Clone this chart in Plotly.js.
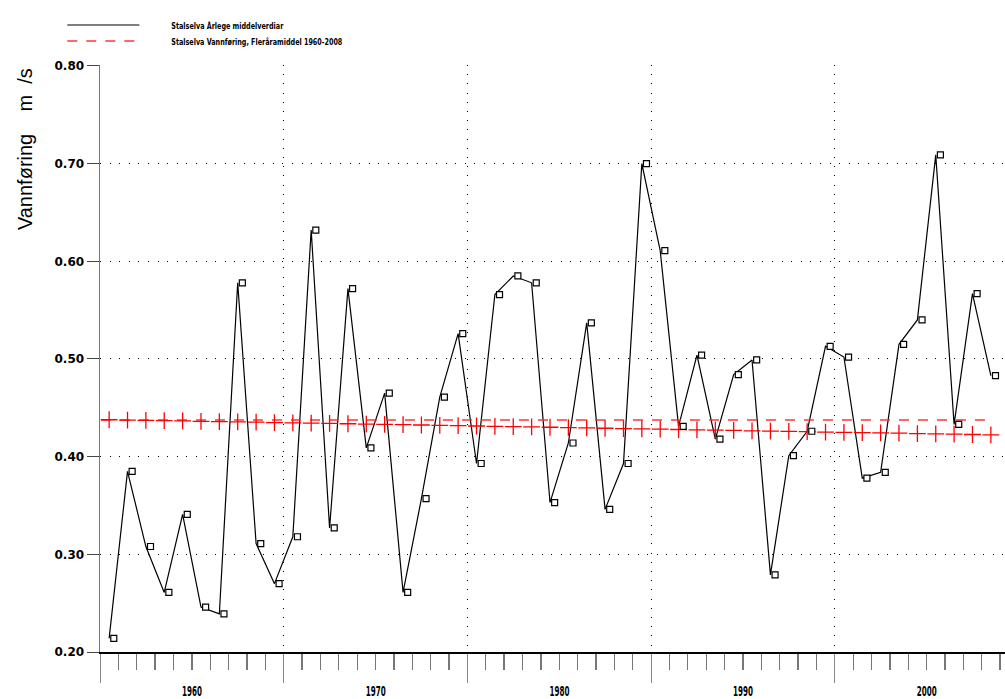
<!DOCTYPE html>
<html>
<head>
<meta charset="utf-8">
<script src="https://cdn.plot.ly/plotly-3.0.1.min.js"></script>
<style>
  html, body { margin: 0; padding: 0; background: #fff; }
  #chart { width: 1005px; height: 699px; }
</style>
</head>
<body>
<div id="chart"></div>
<script>
// ---- data ----
var years = [1960,1961,1962,1963,1964,1965,1966,1967,1968,1969,
             1970,1971,1972,1973,1974,1975,1976,1977,1978,1979,
             1980,1981,1982,1983,1984,1985,1986,1987,1988,1989,
             1990,1991,1992,1993,1994,1995,1996,1997,1998,1999,
             2000,2001,2002,2003,2004,2005,2006,2007,2008];

var flow = [0.214,0.385,0.308,0.261,0.341,0.246,0.239,0.578,0.311,0.270,
            0.318,0.632,0.327,0.572,0.409,0.465,0.261,0.357,0.461,0.526,
            0.393,0.566,0.585,0.578,0.353,0.414,0.537,0.346,0.393,0.700,
            0.611,0.431,0.504,0.418,0.484,0.499,0.279,0.401,0.426,0.513,
            0.502,0.378,0.384,0.515,0.540,0.709,0.433,0.567,0.483];

var trend = [0.4378,0.4375,0.4372,0.4369,0.4366,0.4362,0.4359,0.4356,0.4353,0.4349,
             0.4346,0.4343,0.4340,0.4337,0.4333,0.4330,0.4327,0.4324,0.4320,0.4317,
             0.4314,0.4311,0.4307,0.4304,0.4301,0.4298,0.4294,0.4291,0.4288,0.4285,
             0.4282,0.4278,0.4275,0.4272,0.4269,0.4265,0.4262,0.4259,0.4256,0.4252,
             0.4249,0.4246,0.4243,0.4240,0.4236,0.4233,0.4230,0.4227,0.4224];

var meanPeriod = [1960, 2008];
var meanValue = 0.4375;

var yTicks = [0.20,0.30,0.40,0.50,0.60,0.70,0.80];

var seriesName = 'Stalselva Årlege middelverdiar';
var meanName = 'Stalselva Vannføring, Fleråramiddel 1960-2008';
var yTitle = 'Vannføring\u00a0\u00a0\u00a0\u00a0m\u00a0\u00a0/s';

// ---- build traces ----
var xMid = years.map(function (y) { return y + '-07-01'; });
var xMark = years.map(function (y) { return y + '-10-01'; });
var xMean = [meanPeriod[0] + '-01-20', meanPeriod[1] + '-07-01'];

var narrow = '"DejaVu Sans Condensed", "DejaVu Sans", sans-serif';

var traces = [
  {
    x: xMid, y: flow, type: 'scatter', mode: 'lines', name: seriesName,
    line: { color: '#000', width: 1.2 }, showlegend: true
  },
  {
    x: xMean, y: [meanValue, meanValue], type: 'scatter', mode: 'lines', name: meanName,
    line: { color: 'rgba(255,40,40,0.7)', width: 2, dash: '10px,9px' }, showlegend: true
  },
  {
    x: xMid, y: trend, type: 'scatter', mode: 'markers', name: 'trend', showlegend: false,
    marker: { symbol: 'cross-thin-open', size: 12, color: '#ff0000', line: { color: '#ff0000', width: 1.3 } }
  },
  {
    x: xMark, y: flow, type: 'scatter', mode: 'markers', name: 'punkt', showlegend: false,
    marker: { symbol: 'square', size: 6, color: '#fff', line: { color: '#000', width: 1.2 } }
  }
];

var layout = {
  width: 1005, height: 699,
  margin: { l: 100, r: 0, t: 65, b: 47, pad: 0, autoexpand: false },
  paper_bgcolor: '#fff', plot_bgcolor: '#fff',
  showlegend: true,
  legend: {
    xref: 'container', yref: 'container',
    x: 0.062, y: 0.985, xanchor: 'left', yanchor: 'top',
    bgcolor: 'rgba(0,0,0,0)', itemwidth: 72, traceorder: 'normal',
    font: { family: narrow, size: 9.5, weight: 'bold', color: '#000' }
  },
  xaxis: {
    type: 'date',
    range: ['1960-01-01', '2009-04-08'],
    tick0: '1960-01-01', dtick: 'M120', tickformat: '%Y',
    ticklabelshift: 92, ticklabelstandoff: -3,
    ticks: 'outside', ticklen: 29, tickwidth: 1, tickcolor: '#888',
    showline: true, linecolor: '#000', linewidth: 1.5,
    showgrid: true, gridcolor: '#000', gridwidth: 1, griddash: '1px,8.2px',
    zeroline: false,
    tickfont: { family: narrow, size: 14, weight: 'bold', color: '#000' },
    minor: { tick0: '1960-01-01', dtick: 'M12', ticks: 'outside', ticklen: 16, tickwidth: 1.3, tickcolor: '#777', showgrid: false }
  },
  yaxis: {
    range: [0.2, 0.801],
    tickvals: yTicks, tickformat: '.2f',
    ticks: 'outside', ticklen: 12, tickwidth: 1, tickcolor: '#444',
    showline: true, linecolor: '#777', linewidth: 1.5,
    showgrid: true, gridcolor: '#000', gridwidth: 1, griddash: '1px,8.6px',
    zeroline: false,
    tickfont: { family: '"DejaVu Sans", sans-serif', size: 12, weight: 'bold', color: '#000' }
  },
  annotations: [
    {
      text: yTitle, textangle: -90, showarrow: false,
      xref: 'paper', yref: 'paper', x: 0, y: 0.8567, xanchor: 'center', yanchor: 'middle',
      xshift: -75,
      font: { family: '"Liberation Sans", Arial, sans-serif', size: 20, color: '#000' }
    }
  ]
};

function condense(gd) {
  // narrow the legend texts and year labels like the original condensed typeface
  var legendWidths = [112, 171];
  var lt = gd.querySelectorAll('.legend .legendtext');
  lt.forEach(function (t, i) {
    t.setAttribute('x', parseFloat(t.getAttribute('x') || 0) + 27);
    if (legendWidths[i]) {
      t.setAttribute('textLength', legendWidths[i]);
      t.setAttribute('lengthAdjust', 'spacingAndGlyphs');
    }
  });
  var items = gd.querySelectorAll('.legend .traces');
  if (items.length > 1) {
    var tr = items[1].getAttribute('transform') || '';
    var m = tr.match(/translate\(\s*([-\d.]+)[ ,]+([-\d.]+)\s*\)/);
    if (m) items[1].setAttribute('transform', 'translate(' + m[1] + ',' + (parseFloat(m[2]) - 3) + ')');
  }
  gd.querySelectorAll('.xtick text').forEach(function (t) {
    t.setAttribute('textLength', 20);
    t.setAttribute('lengthAdjust', 'spacingAndGlyphs');
  });
}

Plotly.newPlot('chart', traces, layout, { staticPlot: true, displayModeBar: false })
  .then(function (gd) { condense(gd); });
</script>
</body>
</html>
